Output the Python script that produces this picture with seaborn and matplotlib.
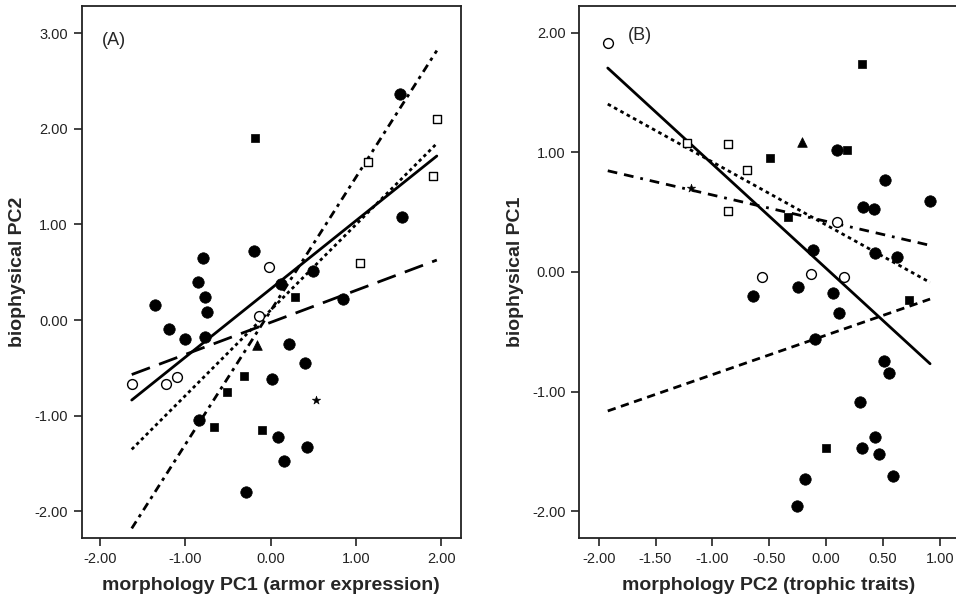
import numpy as np
import pandas as pd
import seaborn as sns
import matplotlib.pyplot as plt
from matplotlib.ticker import FormatStrFormatter

# Panel A: morphology PC1 vs biophysical PC2
a_x = {
    'filled_circle': [1.52, 1.54, -0.20, -0.80, -0.85, 0.49, 0.12, -0.77, 0.85, -1.36, -0.75,
                      -1.19, -1.01, -0.77, 0.21, 0.40, 0.01, -0.84, 0.09, 0.43, 0.16, -0.29],
    'open_circle': [-0.02, -0.14, -1.10, -1.63, -1.23],
    'filled_square': [-0.19, 0.285, -0.31, -0.51, -0.665, -0.106],
    'open_square': [1.946, 1.137, 1.906, 1.047],
    'triangle': [-0.164],
    'star': [0.53],
}
a_y = {
    'filled_circle': [2.36, 1.08, 0.72, 0.645, 0.40, 0.515, 0.38, 0.245, 0.22, 0.155, 0.087,
                      -0.094, -0.20, -0.18, -0.25, -0.446, -0.617, -1.046, -1.227, -1.332, -1.472, -1.796],
    'open_circle': [0.55, 0.045, -0.593, -0.67, -0.67],
    'filled_square': [1.90, 0.24, -0.586, -0.757, -1.123, -1.15],
    'open_square': [2.10, 1.65, 1.51, 0.593],
    'triangle': [-0.262],
    'star': [-0.837],
}

# Panel B: morphology PC2 vs biophysical PC1
b_x = {
    'filled_circle': [0.094, 0.519, 0.328, 0.425, 0.915, -0.111, 0.431, 0.627, -0.639, -0.244, 0.064,
                      0.117, -0.097, 0.513, 0.557, 0.302, 0.431, 0.317, 0.466, 0.592, -0.185, -0.258],
    'open_circle': [-1.92, 0.094, -0.566, -0.135, 0.158],
    'filled_square': [0.317, 0.188, -0.493, -0.331, 0.73, 0.0],
    'open_square': [-1.225, -0.865, -0.695, -0.862],
    'triangle': [-0.208],
    'star': [-1.187],
}
b_y = {
    'filled_circle': [1.019, 0.769, 0.546, 0.524, 0.591, 0.184, 0.161, 0.123, -0.198, -0.128, -0.173,
                      -0.34, -0.56, -0.749, -0.847, -1.086, -1.384, -1.473, -1.523, -1.71, -1.732, -1.96],
    'open_circle': [1.91, 0.42, -0.039, -0.017, -0.039],
    'filled_square': [1.735, 1.019, 0.95, 0.462, -0.234, -1.473],
    'open_square': [1.075, 1.07, 0.855, 0.507],
    'triangle': [1.089],
    'star': [0.704],
}

# fit lines (intercept, slope)
a_intercepts = [0.327, -0.024, 0.106, 0.099]
a_slopes = [0.714, 0.335, 0.895, 1.398]
b_intercepts = [0.030, 0.393, 0.423, -0.529]
b_slopes = [-0.872, -0.526, -0.220, 0.330]

a_line_styles = ['-', (0, (7, 3.5)), (0, (1.2, 1.2)), (0, (3, 1.8, 1.2, 1.8))]
b_line_styles = ['-', (0, (1.3, 1.3)), (0, (3.5, 2.5, 3.5, 2.5, 1, 2.5)), (0, (3, 2))]

marker_styles = {
    'filled_circle': dict(marker='o', s=68, color='black', edgecolor='black', linewidth=0.5),
    'open_circle': dict(marker='o', s=50, color='white', edgecolor='black', linewidth=1.0),
    'filled_square': dict(marker='s', s=34, color='black', edgecolor='black', linewidth=0.5),
    'open_square': dict(marker='s', s=34, color='white', edgecolor='black', linewidth=1.0),
    'triangle': dict(marker='^', s=48, color='black', edgecolor='black', linewidth=0.5),
    'star': dict(marker='*', s=40, color='black', edgecolor='black', linewidth=0.4),
}


def to_frame(xs, ys):
    rows = []
    for g in xs:
        for x, y in zip(xs[g], ys[g]):
            rows.append((g, x, y))
    return pd.DataFrame(rows, columns=['group', 'x', 'y'])


sns.set_theme(style='ticks')
plt.rcParams['font.family'] = ['Liberation Sans', 'DejaVu Sans']

fig = plt.figure(figsize=(9.56, 5.96), dpi=100)
ax_a = fig.add_axes([0.0855, 0.0978, 0.3965, 0.892])
ax_b = fig.add_axes([0.606, 0.0978, 0.3965, 0.892])


def draw_panel(ax, xs, ys, intercepts, slopes, styles, xlim, ylim, xticks, yticks, xlabel, ylabel, tag, tag_pos):
    df = to_frame(xs, ys)
    x_line = np.array([df['x'].min(), df['x'].max()])
    for b0, b1, ls in zip(intercepts, slopes, styles):
        sns.lineplot(x=x_line, y=b0 + b1 * x_line, ax=ax, color='black', linewidth=2.0,
                     linestyle=ls, zorder=2)
    for g, kw in marker_styles.items():
        sub = df[df['group'] == g]
        sns.scatterplot(data=sub, x='x', y='y', ax=ax, zorder=3, **kw)
    ax.set_xlim(*xlim)
    ax.set_ylim(*ylim)
    ax.set_xticks(xticks)
    ax.set_yticks(yticks)
    ax.xaxis.set_major_formatter(FormatStrFormatter('%.2f'))
    ax.yaxis.set_major_formatter(FormatStrFormatter('%.2f'))
    ax.tick_params(direction='out', length=6, width=1.2, labelsize=10.5, colors='#222222', pad=4)
    for sp in ax.spines.values():
        sp.set_linewidth(1.3)
        sp.set_color('#222222')
    ax.set_xlabel(xlabel, fontsize=14, fontweight='bold', labelpad=8)
    ax.set_ylabel(ylabel, fontsize=14, fontweight='bold', labelpad=6)
    ax.text(tag_pos[0], tag_pos[1], tag, transform=ax.transAxes, fontsize=13,
            ha='left', va='center')


draw_panel(ax_a, a_x, a_y, a_intercepts, a_slopes, a_line_styles,
           (-2.216, 2.227), (-2.277, 3.285),
           [-2, -1, 0, 1, 2], [-2, -1, 0, 1, 2, 3],
           'morphology PC1 (armor expression)', 'biophysical PC2', '(A)', (0.054, 0.936))
draw_panel(ax_b, b_x, b_y, b_intercepts, b_slopes, b_line_styles,
           (-2.170, 1.164), (-2.222, 2.222),
           [-2, -1.5, -1, -0.5, 0, 0.5, 1], [-2, -1, 0, 1, 2],
           'morphology PC2 (trophic traits)', 'biophysical PC1', '(B)', (0.128, 0.945))

fig.savefig('out.png', dpi=100)
